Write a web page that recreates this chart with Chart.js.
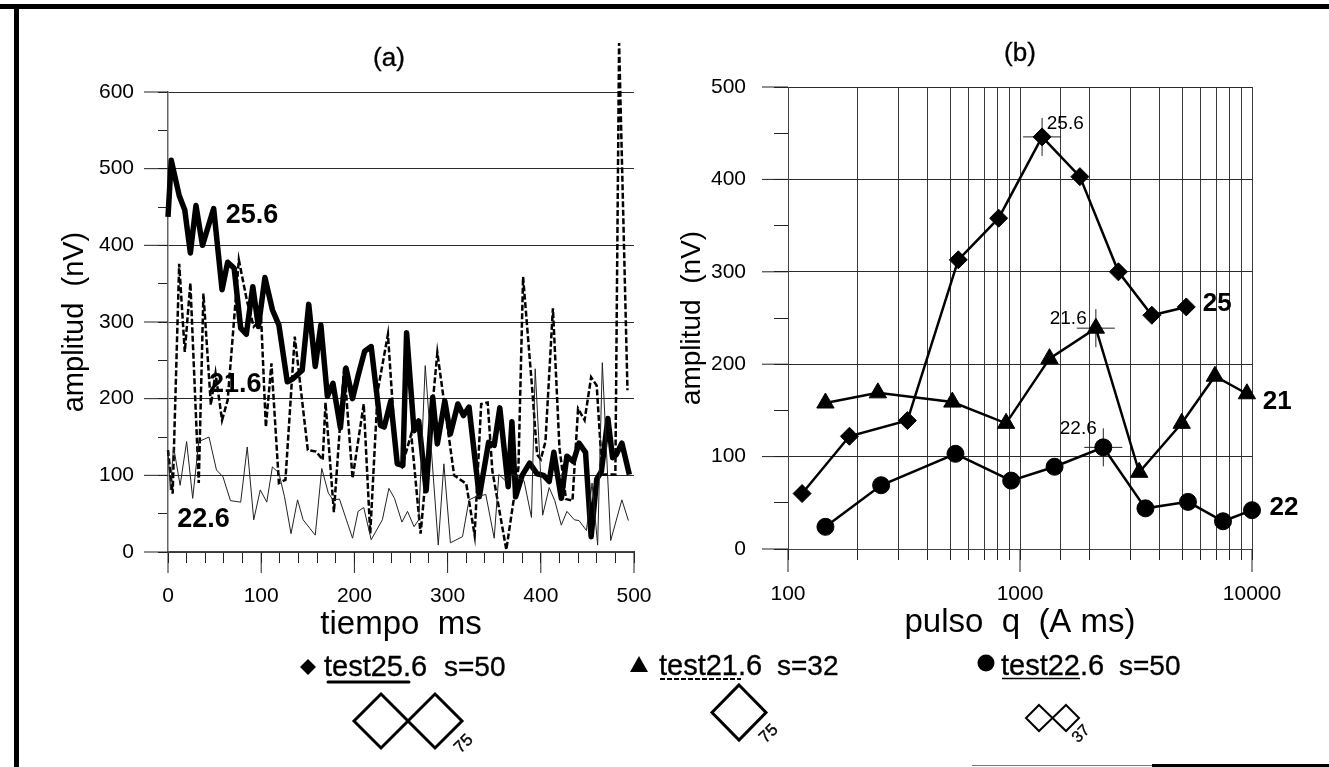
<!DOCTYPE html>
<html>
<head>
<meta charset="utf-8">
<title>amplitud</title>
<script src="https://cdn.jsdelivr.net/npm/chart.js@4"></script>
<style>
  html, body { margin: 0; padding: 0; background: #fff; }
  #page { position: relative; width: 1329px; height: 767px; overflow: hidden; background: #fff; }
  canvas { position: absolute; }
  #canvas-a { left: 40px; top: 20px; }
  #canvas-b { left: 660px; top: 20px; }
  #overlay { position: absolute; left: 0; top: 0; pointer-events: none; font-family: "Liberation Sans", Arial, sans-serif; fill: #000; }
  #overlay path { fill: none; stroke: #000; }
  #overlay text { stroke: #000; stroke-width: .35; }
</style>
</head>
<body>
<div id="page">
  <canvas id="canvas-a" width="640" height="640" style="width:640px;height:640px"></canvas>
  <canvas id="canvas-b" width="669" height="640" style="width:669px;height:640px"></canvas>
  <svg id="overlay" width="1329" height="767">
    <!-- scan frame -->
    <rect x="0" y="4" width="1329" height="5"></rect>
    <rect x="14" y="4" width="5" height="763"></rect>
    <rect x="972" y="765" width="180" height="1" fill="#777" style="fill:#777"></rect>
    <rect x="1152" y="764" width="177" height="3"></rect>

    <text x="389" y="66" font-size="26" text-anchor="middle">(a)</text>
    <text x="1020" y="61" font-size="26" text-anchor="middle">(b)</text>

    <!-- legend row -->
    <polygon points="308,659 316,667 308,675 300,667"></polygon>
    <text x="324" y="676" font-size="29">test25.6</text>
    <text x="444" y="676" font-size="28">s=50</text>
    <path d="M328 682H409" stroke-width="3" stroke-linecap="round"></path>

    <polygon points="639,656 648,672 630,672"></polygon>
    <text x="659" y="675" font-size="29">test21.6</text>
    <text x="777" y="675" font-size="28">s=32</text>
    <path d="M660 679H741" stroke-width="2" stroke-dasharray="5 2"></path>

    <circle cx="986" cy="663" r="8.5"></circle>
    <text x="1001" y="675" font-size="29">test22.6</text>
    <text x="1119" y="675" font-size="28">s=50</text>
    <path d="M1002 678.5H1080" stroke-width="1.5"></path>

    <!-- coil shapes -->
    <path d="M381 694L408 721L381 748L354 721ZM435 694L462 721L435 748L408 721Z" stroke-width="3"></path>
    <text x="463" y="749" font-size="17" text-anchor="middle" transform="rotate(-45 463 743)">75</text>
    <path d="M739 685L766 712.5L739 740L712 712.5Z" stroke-width="3"></path>
    <text x="768" y="739" font-size="17" text-anchor="middle" transform="rotate(-45 768 733)">75</text>
    <path d="M1039 705L1052.5 718L1039 731L1026 718ZM1066 705L1079 718L1066 731L1052.5 718Z" stroke-width="2"></path>
    <text x="1080" y="739" font-size="16" text-anchor="middle" transform="rotate(-45 1080 733)">37</text>
  </svg>
</div>

<script>
//(a) amplitude against time
let time25 = [0,3.5,12,18,24,30,37,49,58,64,71,78,84,91,97,104,112,119,128,134,144,151,158,164,171,177,185,191,198,204,211,218,228,232,239,246,252,256,264,269,277,284,289,297,303,311,317,323,334,344,350,356,365,369,373,380,388,396,403,409,414,422,428,435,441,448,454,460,465,472,477,481,487,495];
let amp25 = [437,511,465,446,390,452,400,448,342,378,370,292,284,346,294,358,316,296,222,226,237,323,242,296,203,220,162,240,200,230,262,268,165,163,197,115,113,286,158,171,80,202,141,197,154,193,178,189,72,143,139,188,85,170,72,100,116,102,100,92,130,70,125,118,142,130,20,95,105,174,123,127,142,101];

let time21 = [0,5,12,18,24,33,38,46,51,58,64,76,85,92,100,105,111,119,126,136,150,159,166,169,178,189,198,210,217,225,236,245,251,261,271,289,307,320,329,336,343,348,363,376,381,391,396,400,405,413,420,427,434,440,447,454,460,466,480,484,493];
let amp21 = [133,76,376,261,351,90,337,192,233,172,198,381,326,294,303,163,246,90,94,281,133,131,120,195,52,241,96,193,24,210,284,119,111,154,24,260,100,89,22,193,195,106,3,110,359,209,127,121,144,318,136,69,67,187,172,228,217,101,101,664,211];

let time22 = [0,2.5,6,13,20,26.5,33,44,52,59,67,78,85,92,99,106,112,119,125,132,139,145,158,165,172,177,184,198,204,210,218,230,237,243,251,257,264,269,276,290,296,303,316,323,330,341,350,355,362,370,382,390,394,402,409,415,422,428,436,441,449,455,461,466,475,487,494];
let amp22 = [133,81,137,87,144,70,144,150,107,98,67,65,137,42,81,65,111,103,72,24,68,42,22,109,77,68,69,18,53,58,16,42,83,70,39,53,33,42,243,9,115,12,20,68,72,75,18,101,93,101,93,45,239,48,84,67,35,53,42,41,28,90,9,247,15,68,41];

//(b) amplitude against pulse
let pulse25 = [115,184,327,542,809,1245,1812,2656,3701,5208];
let peak25 = [60,122,139,313,358,446,403,300,253,262];

let pulse21 = [145,244,511,871,1340,2123,3265,4977,6918,9506];
let peak21 = [158,169,159,136,206,239,83,136,187,168];

let pulse22 = [145,252,527,916,1409,2286,3473,5297,7499,10000];
let peak22 = [24,69,103,74,89,110,44,51,30,42];

//labels written next to the curves
let notesA = ['25.6','21.6','22.6'];
let notesAx = [62,44,10];
let notesAy = [439,218,42];

let notesB = ['25','21','22','25.6','21.6','22.6'];
let notesBx = [6130,11120,11900,1304,1343,1484];
let notesBy = [265,159,45,460,249,130];

function toPoints(xs, ys){
  return xs.map((x, i) => ({x: x, y: ys[i]}));
}

// major ticks are longer than the minor ones
const longTicks = {
  id: 'longTicks',
  afterDatasetsDraw(chart, args, opts){
    const ctx = chart.ctx;
    ctx.save();
    ctx.strokeStyle = '#222';
    ctx.lineWidth = 1;
    chart.scales.x.ticks.forEach((t, i) => {
      if(!t.label) return;
      const px = chart.scales.x.getPixelForTick(i);
      ctx.beginPath();
      ctx.moveTo(px, chart.chartArea.bottom);
      ctx.lineTo(px, chart.chartArea.bottom + opts.x);
      ctx.stroke();
    });
    chart.scales.y.ticks.forEach((t, i) => {
      if(!t.label) return;
      const py = chart.scales.y.getPixelForTick(i);
      ctx.beginPath();
      ctx.moveTo(chart.chartArea.left, py);
      ctx.lineTo(chart.chartArea.left - opts.y, py);
      ctx.stroke();
    });
    ctx.restore();
  }
};

// small text tied to data coordinates
const curveNotes = {
  id: 'curveNotes',
  afterDatasetsDraw(chart, args, opts){
    const ctx = chart.ctx;
    ctx.save();
    ctx.fillStyle = '#000';
    ctx.textBaseline = 'middle';
    ctx.textAlign = 'left';
    opts.text.forEach((t, i) => {
      ctx.font = opts.fonts[i];
      ctx.fillText(t, chart.scales.x.getPixelForValue(opts.x[i]), chart.scales.y.getPixelForValue(opts.y[i]));
    });
    ctx.restore();
  }
};

Chart.register(longTicks, curveNotes);
Chart.defaults.font.family = '"Liberation Sans", Arial, sans-serif';
Chart.defaults.color = '#000';
Chart.defaults.animation = false;

let fontTicks = {size: 21};
let gridEvery100 = ctx => (ctx.tick.value % 100 === 0 ? '#2a2a2a' : 'rgba(0,0,0,0)');

//make chart a
let chartA = new Chart(document.getElementById('canvas-a'), {
  type: 'line',
  data: {
    datasets: [{
      data: toPoints(time22, amp22),
      borderColor: '#222',
      borderWidth: 1,
      pointRadius: 0,
      clip: false
    }, {
      data: toPoints(time21, amp21),
      borderColor: '#000',
      borderWidth: 2.5,
      borderDash: [6, 2.5],
      pointRadius: 0,
      clip: false
    }, {
      data: toPoints(time25, amp25),
      borderColor: '#000',
      borderWidth: 5.5,
      borderJoinStyle: 'round',
      pointRadius: 0,
      clip: false
    }]
  },
  options: {
    responsive: false,
    layout: {padding: {top: 72, right: 46, left: 0, bottom: 0}},
    scales: {
      x: {
        type: 'linear',
        min: 0,
        max: 500,
        afterFit: s => { s.height = 108; },
        grid: {drawOnChartArea: false, tickLength: 11, tickColor: '#222', color: '#222'},
        border: {color: '#444', width: 1.5},
        ticks: {
          stepSize: 20,
          autoSkip: false,
          maxRotation: 0,
          padding: 21,
          font: fontTicks,
          callback: v => (v % 100 === 0 ? String(v) : '')
        },
        title: {display: true, text: 'tiempo  ms', font: {size: 33}, padding: {top: 0, bottom: 15}}
      },
      y: {
        min: 0,
        max: 600,
        afterFit: s => { s.width = 128; },
        grid: {color: gridEvery100, tickColor: '#222', tickLength: 10},
        border: {color: '#666', width: 1.5},
        ticks: {
          stepSize: 50,
          autoSkip: false,
          padding: 24,
          font: fontTicks,
          callback: v => (v % 100 === 0 ? String(v) : '')
        },
        title: {display: true, text: 'amplitud  (nV)', font: {size: 29}, padding: {top: 18, bottom: 0}}
      }
    },
    plugins: {
      legend: {display: false},
      tooltip: {enabled: false},
      longTicks: {x: 21, y: 24},
      curveNotes: {
        text: notesA,
        x: notesAx,
        y: notesAy,
        fonts: ['bold 27px "Liberation Sans"', 'bold 27px "Liberation Sans"', 'bold 27px "Liberation Sans"']
      }
    }
  }
});

function curve(xs, ys, style, radius){
  return {
    data: toPoints(xs, ys),
    borderColor: '#000',
    backgroundColor: '#000',
    borderWidth: 2.5,
    pointStyle: style,
    pointRadius: radius,
    pointBorderWidth: 1,
    clip: false
  };
}

// thin cross over the best point of each curve
function peakCross(xs, ys, i){
  return {
    data: [{x: xs[i], y: ys[i]}],
    showLine: false,
    borderColor: '#222',
    backgroundColor: '#222',
    pointStyle: 'cross',
    pointRadius: 19,
    pointBorderWidth: 1,
    clip: false
  };
}

//make chart b
let chartB = new Chart(document.getElementById('canvas-b'), {
  type: 'line',
  data: {
    datasets: [
      curve(pulse25, peak25, 'rectRot', 9),
      curve(pulse21, peak21, 'triangle', 10),
      curve(pulse22, peak22, 'circle', 8.5),
      peakCross(pulse25, peak25, 5),
      peakCross(pulse21, peak21, 5),
      peakCross(pulse22, peak22, 5)
    ]
  },
  options: {
    responsive: false,
    layout: {padding: {top: 67, right: 77, left: 0, bottom: 0}},
    scales: {
      x: {
        type: 'logarithmic',
        min: 100,
        max: 10000,
        afterFit: s => { s.height = 111; },
        grid: {color: '#3a3a3a', tickColor: '#222', tickLength: 11},
        border: {color: '#444', width: 1},
        ticks: {
          autoSkip: false,
          maxRotation: 0,
          padding: 22,
          font: fontTicks,
          callback: v => ([100, 1000, 10000].includes(v) ? String(v) : '')
        },
        title: {display: true, text: 'pulso  q  (A ms)', font: {size: 33}, padding: {top: 0, bottom: 17}}
      },
      y: {
        min: 0,
        max: 500,
        afterFit: s => { s.width = 128; },
        grid: {color: gridEvery100, tickColor: '#222', tickLength: 14},
        border: {color: '#444', width: 1},
        ticks: {
          stepSize: 50,
          autoSkip: false,
          padding: 28,
          font: fontTicks,
          callback: v => (v % 100 === 0 ? String(v) : '')
        },
        title: {display: true, text: 'amplitud  (nV)', font: {size: 28}, padding: {top: 15, bottom: 0}}
      }
    },
    plugins: {
      legend: {display: false},
      tooltip: {enabled: false},
      longTicks: {x: 23, y: 26},
      curveNotes: {
        text: notesB,
        x: notesBx,
        y: notesBy,
        fonts: ['bold 26px "Liberation Sans"', 'bold 26px "Liberation Sans"', 'bold 26px "Liberation Sans"',
                '19px "Liberation Sans"', '19px "Liberation Sans"', '19px "Liberation Sans"']
      }
    }
  }
});
</script>
</body>
</html>
